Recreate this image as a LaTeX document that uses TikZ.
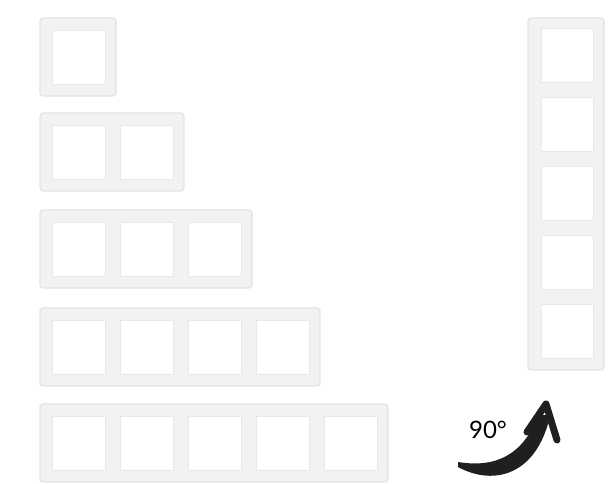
\documentclass[tikz,border=0pt]{standalone}
\usepackage{fontspec}
\setmainfont{Lato}
\begin{document}
\begin{tikzpicture}[x=1pt,y=-1pt,
  frame/.style={draw=black!11,fill=black!5,line width=1.2pt,rounded corners=3pt},
  win/.style={draw=black!9,fill=white,line width=0.8pt},
  lbl/.style={font=\fontsize{24}{24}\selectfont,inner sep=0pt}]
\useasboundingbox (0,0) rectangle (610,484);
% horizontal frames
\foreach \n/\t in {1/18,2/113,3/210,4/308,5/404}{
  \pgfmathsetmacro{\w}{76+68*(\n-1)}
  \draw[frame] (40,\t) rectangle ++(\w,78);
  \foreach \k in {1,...,\n}{
    \pgfmathsetmacro{\xx}{52+68*(\k-1)}
    \draw[win] (\xx,\t+12) rectangle ++(53,54);
  }
}
% vertical frame
\draw[frame] (528,18) rectangle (604,370);
\foreach \k in {1,...,5}{
  \pgfmathsetmacro{\yy}{28+69*(\k-1)}
  \draw[win] (541,\yy) rectangle ++(52,54);
}
% rotation arrow
\node[lbl] (deg) at (488,430) {90°};
\fill[black!88] (458,462) .. controls (495,468) and (523,456) .. (539,414)
  -- (550,416) .. controls (537,474) and (495,487) .. (458,467) -- cycle;
\draw[black!88,line width=7pt,line cap=round,line join=round]
  (527,432) -- (546,404) -- (557,440);
\end{tikzpicture}
\end{document}
